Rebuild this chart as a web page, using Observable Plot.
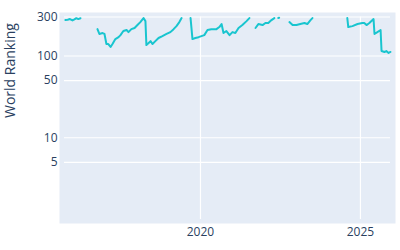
<!DOCTYPE html>
<html><head><meta charset="utf-8">
<script src="https://cdn.jsdelivr.net/npm/d3@7"></script>
<script src="https://cdn.jsdelivr.net/npm/@observablehq/plot@0.6"></script>
<style>body{margin:0;background:#fff}</style>
</head><body><div id="chart"></div>
<script>
const years = [
  2015.78, 2015.85, 2015.92, 2016.0, 2016.06, 2016.12, 2016.18, 2016.25, 2016.5,
  2016.78, 2016.84, 2016.94, 2017.0, 2017.06, 2017.12, 2017.19, 2017.25, 2017.34, 2017.44,
  2017.5, 2017.59, 2017.69, 2017.75, 2017.84, 2017.94, 2018.03, 2018.12, 2018.22, 2018.28,
  2018.31, 2018.38, 2018.44, 2018.5, 2018.59, 2018.69, 2018.81, 2018.94, 2019.06, 2019.16,
  2019.25, 2019.34, 2019.41, 2019.55,
  2019.69, 2019.75, 2019.84, 2019.94, 2020.03, 2020.12, 2020.22, 2020.34, 2020.5, 2020.59,
  2020.66, 2020.72, 2020.81, 2020.91, 2021.0, 2021.09, 2021.19, 2021.31, 2021.44, 2021.53, 2021.62,
  2021.72, 2021.81, 2021.94, 2022.03, 2022.12, 2022.22, 2022.31, 2022.38,
  2022.43, 2022.46, 2022.6,
  2022.78, 2022.88, 2023.0, 2023.12, 2023.25, 2023.34, 2023.44, 2023.5, 2024.0,
  2024.59, 2024.62, 2024.75, 2024.91, 2025.06, 2025.12, 2025.19, 2025.28, 2025.41, 2025.44,
  2025.53, 2025.63, 2025.66, 2025.75, 2025.81, 2025.88, 2025.94
];
const ranks = [
  275, 278, 283, 272, 280, 290, 283, 290, null,
  213, 186, 191, 186, 140, 140, 129, 140, 161, 170,
  180, 202, 208, 196, 213, 220, 239, 260, 291, 267,
  136, 144, 152, 140, 152, 166, 175, 186, 196, 213,
  232, 260, 291, null,
  291, 161, 166, 170, 175, 180, 208, 213, 213, 226,
  246, 191, 202, 180, 196, 191, 220, 239, 267, 291, null,
  220, 246, 239, 253, 253, 275, 291, null,
  291, 293, null,
  260, 239, 239, 246, 253, 246, 275, 291, null,
  291, 226, 232, 246, 253, 253, 239, 253, 283, 186,
  196, 208, 115, 112, 115, 109, 112
];
const yTicks = [5, 10, 50, 100, 300];
const xTicks = [2020, 2025];
const yTitle = "World Ranking";

const data = years.map((x, i) => ({x, y: ranks[i]}));
const xDomain = [2015.75, 2025.94];
const yDomain = [1, 300];
const ink = "#2a3f5f";

const chart = Plot.plot({
  width: 400, height: 250,
  marginLeft: 59, marginRight: 5, marginTop: 12, marginBottom: 27,
  style: {fontFamily: "'Open Sans', sans-serif", background: "#fff"},
  x: {domain: xDomain, insetLeft: 5, insetRight: 5, axis: null},
  y: {type: "log", domain: yDomain, insetTop: 4.5, insetBottom: 4, axis: null},
  marks: [
    Plot.frame({fill: "#e5ecf6", stroke: null}),
    Plot.ruleY(yTicks, {y: d => d, x1: xDomain[0], x2: xDomain[1], stroke: "#fff", strokeWidth: 1.2}),
    Plot.ruleX(xTicks, {x: d => d, y1: yDomain[0], y2: yDomain[1], stroke: "#fff", strokeWidth: 1.2}),
    Plot.line(data, {x: "x", y: "y", stroke: "#19c5cf", strokeWidth: 2}),
    Plot.text(yTicks, {y: d => d, text: d => String(d), frameAnchor: "left", textAnchor: "end", dx: -2, fontSize: 12, fill: ink}),
    Plot.text(xTicks, {x: d => d, text: d => String(d), frameAnchor: "bottom", lineAnchor: "top", dy: 4, fontSize: 12, fill: ink}),
    Plot.text([yTitle], {frameAnchor: "left", rotate: -90, dx: -49, fontSize: 14, fill: ink})
  ]
});
document.getElementById("chart").append(chart);
</script>
</body></html>
